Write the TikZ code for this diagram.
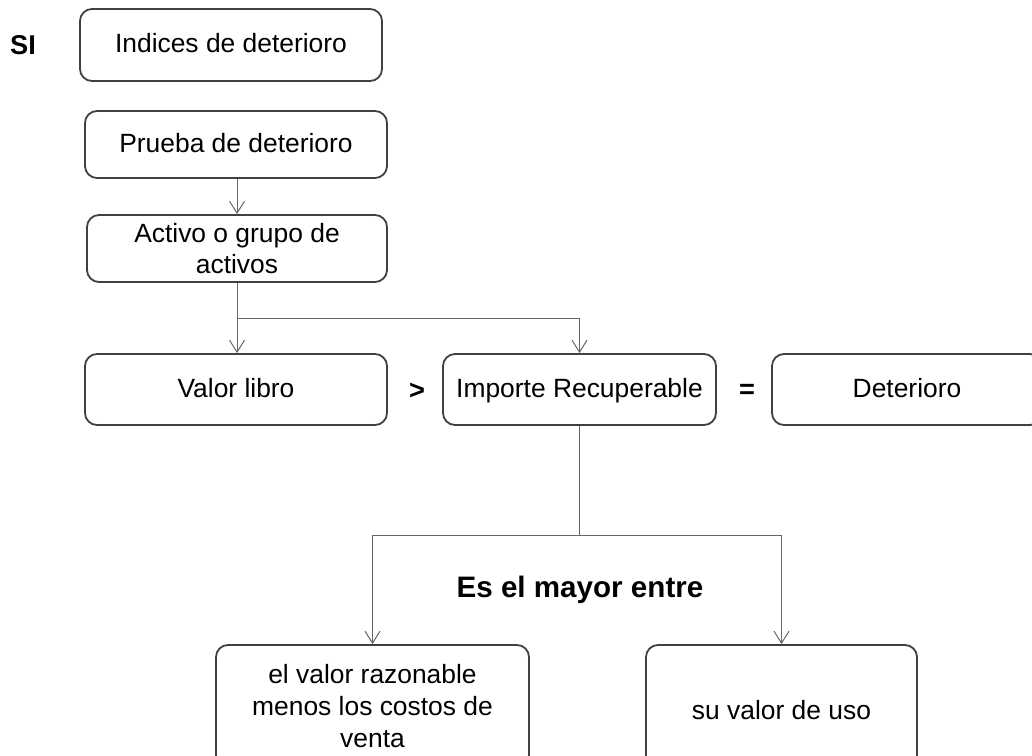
\documentclass[tikz,border=0pt]{standalone}
\usepackage{fontspec}
\setmainfont{Liberation Sans}
\usetikzlibrary{arrows.meta}
\begin{document}
\begin{tikzpicture}[x=0.5pt,y=-0.5pt,
  box/.style={draw=black!75,line width=0.9pt,rounded corners=6pt,align=center,inner sep=0pt,font=\fontsize{13.2}{15.8}\selectfont},
  one/.style={box,text height=0.98em,text depth=0.2em},
  arr/.style={draw=black!60,line width=0.5pt,-{Straight Barb[length=6pt,width=7.5pt]}},
  lin/.style={draw=black!60,line width=0.5pt},
  big/.style={font=\fontsize{13.6}{16}\selectfont\bfseries}]
\useasboundingbox (0,0) rectangle (1032,755);
\node[big] (si) at (23,45) {SI};
\node[one,minimum width=151pt,minimum height=36pt] (ind) at (231,45) {Indices de deterioro};
\node[one,minimum width=151pt,minimum height=33.5pt] (prueba) at (236,144.5) {Prueba de deterioro};
\node[box,minimum width=150pt,minimum height=33.5pt] (activo) at (237,248.5) {Activo o grupo de\\activos};
\node[one,minimum width=151pt,minimum height=35.5pt] (valor) at (236,389.5) {Valor libro};
\node[big] (mayor) at (417,391) {>};
\node[one,minimum width=136.5pt,minimum height=35.5pt] (importe) at (579.5,389.5) {Importe Recuperable};
\node[big] (igual) at (747,391) {=};
\node[one,minimum width=135pt,minimum height=35.5pt] (deter) at (907,389.5) {Deterioro};
\node[big,font=\fontsize{14.8}{17}\selectfont\bfseries] (entre) at (580,590) {Es el mayor entre};
\node[box,minimum width=156.5pt,minimum height=61pt] (razon) at (372.5,706) {el valor razonable\\menos los costos de\\venta};
\node[one,minimum width=135.5pt,minimum height=67pt] (uso) at (781.5,712) {su valor de uso};
\coordinate (br1) at (237,318);
\coordinate (br2) at (579.5,535);
\draw[arr] (prueba.south -| activo.north) -- (activo.north);
\draw[lin] (activo.south) -- (br1);
\draw[arr] (br1) -- (br1 |- valor.north);
\draw[arr] (br1) -| (importe.north);
\draw[lin] (importe.south) -- (br2);
\draw[arr] (br2) -| (razon.north);
\draw[arr] (br2) -| (uso.north);
\end{tikzpicture}
\end{document}
